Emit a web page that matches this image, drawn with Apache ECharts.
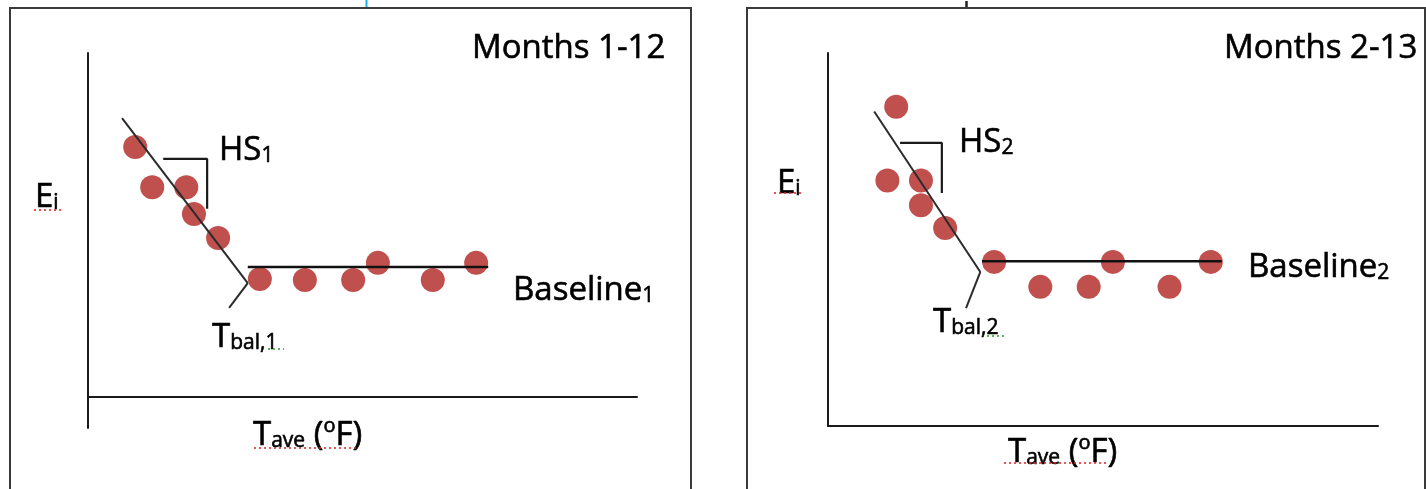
<!DOCTYPE html>
<html>
<head>
<meta charset="utf-8">
<script src="https://cdn.jsdelivr.net/npm/echarts@6/dist/echarts.min.js"></script>
<style>
  html, body { margin: 0; padding: 0; background: #fff; }
  #chart { width: 1426px; height: 489px; }
</style>
</head>
<body>
<div id="chart"></div>
<script>
// panel 1: months 1-12 (x = average temp, y = energy use)
const months1Temp = [8.6, 11.7, 17.9, 19.3, 23.7, 31.3, 39.5, 48.3, 52.8, 62.8, 70.7]
const months1Energy = [72.7, 61.0, 61.0, 53.2, 46.2, 34.3, 34.0, 34.0, 39.0, 34.0, 39.0]
const slope1 = [[6.2, 81.1], [29.1, 33.1]]
const baseline1 = [[29.1, 37.8], [72.9, 37.8]]
const tbal1Pointer = [[29.1, 33.1], [25.7, 25.9]]
const hs1Bracket = [[13.7, 69.2], [21.7, 69.2], [21.7, 54.7]]

// panel 2: months 2-13
const months2Temp = [12.4, 10.8, 16.9, 16.9, 21.3, 30.2, 38.6, 47.4, 51.8, 62.1, 69.6]
const months2Energy = [85.6, 65.8, 65.8, 59.2, 53.1, 44.0, 37.3, 37.3, 44.0, 37.3, 44.0]
const slope2 = [[8.4, 84.3], [27.7, 41.3]]
const baseline2 = [[28.0, 44.2], [71.6, 44.2]]
const tbal2Pointer = [[27.7, 41.3], [25.1, 31.6]]
const hs2Bracket = [[13.1, 75.9], [20.7, 75.9], [20.7, 62.5]]

const panelTitles = ['Months 1-12', 'Months 2-13']

const FONT = '"Open Sans", sans-serif'
const DOT = '#C0504D'
const INK = '#1a1a1a'

// thin outline so the glyphs come out a bit heavier, like the source
const txt = { fontFamily: FONT, fill: '#000', stroke: '#000', lineWidth: 0.6 }
const rich = {
  m: Object.assign({ fontSize: 33, lineHeight: 36, verticalAlign: 'bottom' }, txt),
  s: Object.assign({ fontSize: 21, lineHeight: 20, verticalAlign: 'bottom' }, txt),
  o: Object.assign({ fontSize: 20, lineHeight: 28, verticalAlign: 'top' }, txt),
}

function label(x, y, text) {
  return {
    type: 'text', x: x, y: y, z: 10,
    style: Object.assign({ text: text, rich: rich, fontSize: 33, verticalAlign: 'top', align: 'left' }, txt),
  }
}
function squiggle(x1, x2, y, color) {
  return {
    type: 'line', z: 10,
    shape: { x1: x1, y1: y, x2: x2, y2: y },
    style: { stroke: color, lineWidth: 1.5, lineDash: [2, 3] },
  }
}

function axisPair(idx, yMin) {
  const hidden = { show: false }
  const line = { show: true, onZero: true, lineStyle: { color: INK, width: 2 } }
  return {
    x: { type: 'value', gridIndex: idx, min: 0, max: 100, axisLine: line, axisTick: hidden, axisLabel: hidden, splitLine: hidden },
    y: { type: 'value', gridIndex: idx, min: yMin, max: 100, axisLine: line, axisTick: hidden, axisLabel: hidden, splitLine: hidden },
  }
}
const a0 = axisPair(0, -9)
const a1 = axisPair(1, 0)

function lineSeries(idx, data, width, color) {
  return {
    type: 'line', xAxisIndex: idx, yAxisIndex: idx, data: data,
    symbol: 'none', silent: true, z: 3,
    lineStyle: { color: color, width: width },
  }
}
function dots(idx, xs, ys) {
  return {
    type: 'scatter', xAxisIndex: idx, yAxisIndex: idx, z: 2,
    data: xs.map((x, i) => [x, ys[i]]),
    symbolSize: 24,
    itemStyle: { color: DOT, opacity: 1 },
  }
}

const chart = echarts.init(document.getElementById('chart'))
chart.setOption({
  animation: false,
  backgroundColor: '#fff',
  grid: [
    { left: 88, top: 53, width: 549, height: 375 },
    { left: 828, top: 53, width: 550, height: 373 },
  ],
  xAxis: [a0.x, a1.x],
  yAxis: [a0.y, a1.y],
  series: [
    dots(0, months1Temp, months1Energy),
    lineSeries(0, slope1, 2, '#2b2b2b'),
    lineSeries(0, baseline1, 2.5, '#111'),
    lineSeries(0, tbal1Pointer, 2, '#2b2b2b'),
    lineSeries(0, hs1Bracket, 2.2, '#1a1a1a'),
    dots(1, months2Temp, months2Energy),
    lineSeries(1, slope2, 2, '#2b2b2b'),
    lineSeries(1, baseline2, 2.5, '#111'),
    lineSeries(1, tbal2Pointer, 2, '#2b2b2b'),
    lineSeries(1, hs2Bracket, 2.2, '#1a1a1a'),
  ],
  graphic: [
    // panel frames
    { type: 'rect', shape: { x: 10, y: 8, width: 681, height: 500 }, style: { fill: null, stroke: '#3a3a3a', lineWidth: 2 } },
    { type: 'rect', shape: { x: 747, y: 8, width: 678, height: 500 }, style: { fill: null, stroke: '#3a3a3a', lineWidth: 2 } },
    { type: 'line', shape: { x1: 366.5, y1: 0, x2: 366.5, y2: 7 }, style: { stroke: '#1ab0ea', lineWidth: 2 } },
    { type: 'line', shape: { x1: 966.5, y1: 1, x2: 966.5, y2: 7 }, style: { stroke: '#222', lineWidth: 2.5 } },

    // panel 1 texts
    label(472, 29, '{m|' + panelTitles[0] + '}'),
    label(219, 131, '{m|HS}{s|1}'),
    label(35, 178, '{m|E}{s|i}'),
    label(513, 271, '{m|Baseline}{s|1}'),
    label(212, 318, '{m|T}{s|bal,1}'),
    label(253, 416, '{m|T}{s|ave}{m| (}{o|o}{m|F)}'),
    squiggle(34, 62, 210, '#e02020'),
    squiggle(268, 284, 349, '#2a9a2a'),
    squiggle(254, 357, 448, '#e02020'),

    // panel 2 texts
    label(1224, 29, '{m|' + panelTitles[1] + '}'),
    label(959, 123, '{m|HS}{s|2}'),
    label(777, 164, '{m|E}{s|i}'),
    label(1248, 248, '{m|Baseline}{s|2}'),
    label(933, 303, '{m|T}{s|bal,2}'),
    label(1008, 433, '{m|T}{s|ave}{m| (}{o|o}{m|F)}'),
    squiggle(774, 804, 193, '#e02020'),
    squiggle(987, 1005, 336, '#2a9a2a'),
    squiggle(1004, 1107, 463, '#e02020'),
  ],
})
</script>
</body>
</html>
